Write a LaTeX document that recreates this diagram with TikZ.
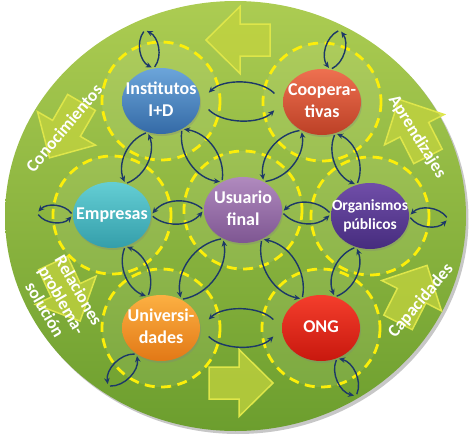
\documentclass[tikz,border=0pt]{standalone}
\usepackage{fontspec}
\setmainfont{Carlito}
\usetikzlibrary{shapes.geometric,arrows.meta,shadows,backgrounds}

\definecolor{navy}{RGB}{28,56,104}
\definecolor{dashyellow}{RGB}{252,238,10}
\definecolor{discA}{RGB}{172,204,82}
\definecolor{discB}{RGB}{108,158,46}
\definecolor{arrowfill}{RGB}{196,212,62}
\definecolor{arrowline}{RGB}{222,230,74}
\definecolor{instA}{RGB}{108,165,218}
\definecolor{instB}{RGB}{52,106,166}
\definecolor{coopA}{RGB}{238,112,80}
\definecolor{coopB}{RGB}{188,64,38}
\definecolor{empA}{RGB}{100,206,212}
\definecolor{empB}{RGB}{52,158,170}
\definecolor{usuA}{RGB}{176,138,190}
\definecolor{usuB}{RGB}{126,86,146}
\definecolor{orgA}{RGB}{112,78,168}
\definecolor{orgB}{RGB}{70,44,126}
\definecolor{univA}{RGB}{252,176,66}
\definecolor{univB}{RGB}{226,120,22}
\definecolor{ongA}{RGB}{244,62,44}
\definecolor{ongB}{RGB}{200,24,14}

% text in a box of no width, so the ellipse keeps its size
\newcommand{\cl}[1]{\makebox[0pt]{\begin{tabular}{@{}c@{}}#1\end{tabular}}}

\tikzset{
	unit/.style={ellipse, inner sep=0pt, minimum width=78pt, minimum height=66pt,
		text=white, font=\fontsize{18}{22}\selectfont\bfseries,
		drop shadow={opacity=0.3, shadow xshift=1pt, shadow yshift=-2pt}},
	ring/.style={draw=dashyellow, line width=2.8pt, dash pattern=on 10pt off 6.5pt},
	disc/.style={fill=white, fill opacity=0.08},
	flow/.style={navy, line width=1.4pt, -{Stealth[length=6pt, width=5.5pt]},
		shorten <=2pt, shorten >=2pt},
	wide/.style={shorten <=12pt, shorten >=12pt},
	bigarrow/.style={fill=arrowfill, fill opacity=0.75, draw=arrowline, line width=1.5pt},
	pics/cyclearrow/.style={code={
		\draw[bigarrow] (-33,-16) -- (-3,-16) -- (-3,-33.5) -- (31,0)
			-- (-3,33.5) -- (-3,16) -- (-33,16) -- cycle;}},
	tag/.style={text=white, font=\fontsize{17.5}{19.5}\selectfont\bfseries}
}

\begin{document}
\begin{tikzpicture}[x=1pt, y=-1pt]
	\useasboundingbox (0,0) rectangle (472,437);

	% actors
	\node[unit, top color=instA, bottom color=instB] (inst) at (161,101) {\cl{Institutos\\I+D}};
	\node[unit, top color=coopA, bottom color=coopB] (coop) at (322,102) {\cl{Coopera-\\tivas}};
	\node[unit, top color=empA, bottom color=empB] (emp) at (112,215) {\cl{Empresas}};
	\node[unit, top color=usuA, bottom color=usuB] (usu) at (243,210) {\cl{Usuario\\final}};
	\node[unit, top color=orgA, bottom color=orgB, font=\fontsize{15.5}{19}\selectfont\bfseries] (org) at (370,216) {\cl{Organismos\\públicos}};
	\node[unit, top color=univA, bottom color=univB] (univ) at (161,328) {\cl{Universi-\\dades}};
	\node[unit, top color=ongA, bottom color=ongB] (ong) at (321,328) {\cl{ONG}};

	\begin{scope}[on background layer]
		\fill[black, opacity=0.22] (238,219) ellipse (230.5 and 215);
		\shade[top color=discA, bottom color=discB] (235.5,216) ellipse (230.5 and 215);
		% cycle arrows
		\pic[rotate=180] (a1) at (237,40) {cyclearrow};
		\pic[rotate=240] (a2) at (65,131) {cyclearrow};
		\pic[rotate=295] (a3) at (67,293) {cyclearrow};
		\pic[rotate=0] (a4) at (242,383) {cyclearrow};
		\pic[rotate=63] (a5) at (413,293) {cyclearrow};
		\pic[rotate=117] (a6) at (413,127) {cyclearrow};
		% dashed rings
		\foreach \u in {inst,coop,emp,usu,org,univ,ong}
			\fill[disc] (\u) circle (59);
		\foreach \u in {inst,coop,emp,usu,org,univ,ong}
			\draw[ring] (\u) circle (59);
	\end{scope}

	\node[tag, rotate=50] (know) at (64,128) {Conocimientos};
	\node[tag, rotate=-58] (learn) at (417,137) {Aprendizajes};
	\node[tag, rotate=50] (skill) at (421,301) {Capacidades};
	\node[tag, rotate=-60, align=center] (solve) at (62,300) {Relaciones\\problema-\\solución};

	% exchanges between neighbours
	\path[flow]
		(inst.east) edge[bend right=45, wide] (coop.west)
		(coop.west) edge[bend right=45, wide] (inst.east)
		(inst.-113) edge[bend right=45] (emp.67)
		(emp.67) edge[bend right=45] (inst.-113)
		(inst.-53) edge[bend right=45] (usu.127)
		(usu.127) edge[bend right=45] (inst.-53)
		(coop.-126) edge[bend right=45] (usu.54)
		(usu.54) edge[bend right=45] (coop.-126)
		(coop.-67) edge[bend right=45] (org.113)
		(org.113) edge[bend right=45] (coop.-67)
		(emp.east) edge[bend right=45] (usu.west)
		(usu.west) edge[bend right=45] (emp.east)
		(usu.-3) edge[bend right=45] (org.177)
		(org.177) edge[bend right=45] (usu.-3)
		(emp.-67) edge[bend right=45] (univ.113)
		(univ.113) edge[bend right=45] (emp.-67)
		(usu.-125) edge[bend right=45] (univ.55)
		(univ.55) edge[bend right=45] (usu.-125)
		(usu.-57) edge[bend right=45] (ong.123)
		(ong.123) edge[bend right=45] (usu.-57)
		(org.-114) edge[bend right=45] (ong.66)
		(ong.66) edge[bend right=45] (org.-114)
		(univ.east) edge[bend right=45, wide] (ong.west)
		(ong.west) edge[bend right=45, wide] (univ.east);

	% exchanges with the outside
	\coordinate (inst-out) at (145,30);
	\coordinate (coop-out) at (340,30);
	\coordinate (emp-out) at (37,213);
	\coordinate (org-out) at (448,219);
	\coordinate (univ-out) at (108,386);
	\coordinate (ong-out) at (356,396);
	\path[flow]
		(inst.103) edge[bend right=50] (inst-out)
		(inst-out) edge[bend right=50] (inst.103)
		(coop.76) edge[bend right=50] (coop-out)
		(coop-out) edge[bend right=50] (coop.76)
		(emp.west) edge[bend right=50] (emp-out)
		(emp-out) edge[bend right=50] (emp.west)
		(org.east) edge[bend right=50] (org-out)
		(org-out) edge[bend right=50] (org.east)
		(univ.-133) edge[bend right=50] (univ-out)
		(univ-out) edge[bend right=50] (univ.-133)
		(ong.-62) edge[bend right=50] (ong-out)
		(ong-out) edge[bend right=50] (ong.-62);
\end{tikzpicture}
\end{document}
